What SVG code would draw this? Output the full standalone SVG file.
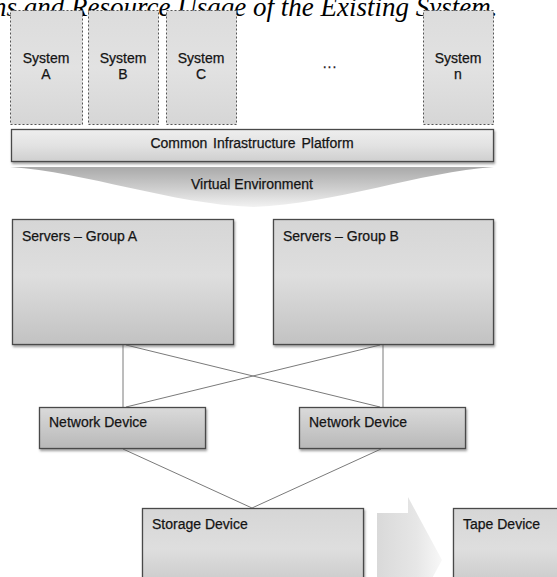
<svg xmlns="http://www.w3.org/2000/svg" width="557" height="577" viewBox="0 0 557 577">
  <style>
    .t { font-family: "Liberation Sans", Arial, sans-serif; font-size: 14px; fill: #141414; stroke: #141414; stroke-width: 0.25; }
    .c { text-anchor: middle; }
    .cap { font-family: "Liberation Serif", "Times New Roman", serif; font-style: italic; font-size: 27px; fill: #000; }
    .sys { fill: url(#gSys); stroke: #555; stroke-width: 1; stroke-dasharray: 2 2; }
    .box { fill: url(#gBox); stroke: #4a4a4a; stroke-width: 1.3; filter: url(#sh); }
    .nd { fill: url(#gNd); stroke: #4a4a4a; stroke-width: 1.3; filter: url(#sh); }
    .ln { stroke: #7a7a7a; stroke-width: 1; fill: none; }
  </style>
  <defs>
    <linearGradient id="gSys" x1="0" y1="0" x2="0" y2="1">
      <stop offset="0" stop-color="#dcdcdc"/>
      <stop offset="0.5" stop-color="#e2e2e2"/>
      <stop offset="1" stop-color="#d6d6d6"/>
    </linearGradient>
    <linearGradient id="gBox" x1="0" y1="0" x2="0" y2="1">
      <stop offset="0" stop-color="#d6d6d6"/>
      <stop offset="0.45" stop-color="#dedede"/>
      <stop offset="1" stop-color="#c2c2c2"/>
    </linearGradient>
    <linearGradient id="gNd" x1="0" y1="0" x2="0" y2="1">
      <stop offset="0" stop-color="#dadada"/>
      <stop offset="1" stop-color="#b8b8b8"/>
    </linearGradient>
    <linearGradient id="gCip" x1="0" y1="0" x2="0" y2="1">
      <stop offset="0" stop-color="#eeeeee"/>
      <stop offset="0.5" stop-color="#e2e2e2"/>
      <stop offset="1" stop-color="#cfcfcf"/>
    </linearGradient>
    <linearGradient id="gVe" x1="0" y1="0" x2="0" y2="1">
      <stop offset="0" stop-color="#a9a9a9"/>
      <stop offset="0.55" stop-color="#cfcfcf"/>
      <stop offset="1" stop-color="#f2f2f2"/>
    </linearGradient>
    <linearGradient id="gArr" x1="0" y1="0" x2="1" y2="0">
      <stop offset="0" stop-color="#d9d9d9"/>
      <stop offset="0.6" stop-color="#e6e6e6"/>
      <stop offset="1" stop-color="#f8f8f8"/>
    </linearGradient>
    <filter id="sh" x="-5%" y="-5%" width="115%" height="125%">
      <feDropShadow dx="1" dy="2" stdDeviation="1" flood-color="#555" flood-opacity="0.55"/>
    </filter>
  </defs>

  <rect width="557" height="577" fill="#fff"/>

  <text class="cap" x="-7" y="16">ns and Resource Usage of the Existing System.</text>

  <g id="system-a">
    <rect class="sys" x="10.5" y="10.5" width="72" height="114"/>
    <text class="t c" x="46" y="63">System</text>
    <text class="t c" x="46" y="79">A</text>
  </g>
  <g id="system-b">
    <rect class="sys" x="88.5" y="10.5" width="70" height="114"/>
    <text class="t c" x="123" y="63">System</text>
    <text class="t c" x="123" y="79">B</text>
  </g>
  <g id="system-c">
    <rect class="sys" x="166.5" y="10.5" width="70" height="114"/>
    <text class="t c" x="201" y="63">System</text>
    <text class="t c" x="201" y="79">C</text>
  </g>
  <g id="ellipsis">
    <text class="t c" x="330" y="68" font-size="16" letter-spacing="1">...</text>
  </g>
  <g id="system-n">
    <rect class="sys" x="423.5" y="10.5" width="70" height="114"/>
    <text class="t c" x="458" y="63">System</text>
    <text class="t c" x="458" y="79">n</text>
  </g>

  <g id="common-infrastructure-platform">
    <rect x="11.5" y="129.5" width="482" height="32" fill="url(#gCip)" stroke="#4a4a4a" stroke-width="1.3" filter="url(#sh)"/>
    <text class="t c" x="252" y="148" word-spacing="2">Common Infrastructure Platform</text>
  </g>

  <g id="virtual-environment">
    <path d="M10,167 L494,167 C420,172 335,204 253,207 C171,204 86,172 10,167 Z" fill="url(#gVe)"/>
    <text class="t c" x="252" y="189">Virtual Environment</text>
  </g>

  <g id="connectors">
    <line class="ln" x1="123" y1="345" x2="123" y2="407"/>
    <line class="ln" x1="126" y1="345" x2="380" y2="407"/>
    <line class="ln" x1="383" y1="345" x2="383" y2="407"/>
    <line class="ln" x1="380" y1="345" x2="126" y2="407"/>
    <line class="ln" x1="123" y1="449" x2="252" y2="508"/>
    <line class="ln" x1="381" y1="449" x2="252" y2="508"/>
  </g>

  <g id="servers-group-a">
    <rect class="box" x="12.5" y="219.5" width="221" height="125"/>
    <text class="t" x="22" y="241">Servers – Group A</text>
  </g>
  <g id="servers-group-b">
    <rect class="box" x="273.5" y="219.5" width="220" height="125"/>
    <text class="t" x="283" y="241">Servers – Group B</text>
  </g>

  <g id="network-device-1">
    <rect class="nd" x="39.5" y="407.5" width="166" height="41"/>
    <text class="t" x="49" y="427">Network Device</text>
  </g>
  <g id="network-device-2">
    <rect class="nd" x="299.5" y="407.5" width="166" height="41"/>
    <text class="t" x="309" y="427">Network Device</text>
  </g>

  <g id="storage-device">
    <rect class="box" x="142.5" y="508.5" width="221" height="90"/>
    <text class="t" x="152" y="529">Storage Device</text>
  </g>

  <g id="transfer-arrow">
    <path d="M377,513 L408,513 L408,497 L442,560 L408,623 L408,607 L377,607 Z" fill="url(#gArr)"/>
  </g>

  <g id="tape-device">
    <rect class="box" x="453.5" y="508.5" width="120" height="90"/>
    <text class="t" x="463" y="529">Tape Device</text>
  </g>
</svg>
